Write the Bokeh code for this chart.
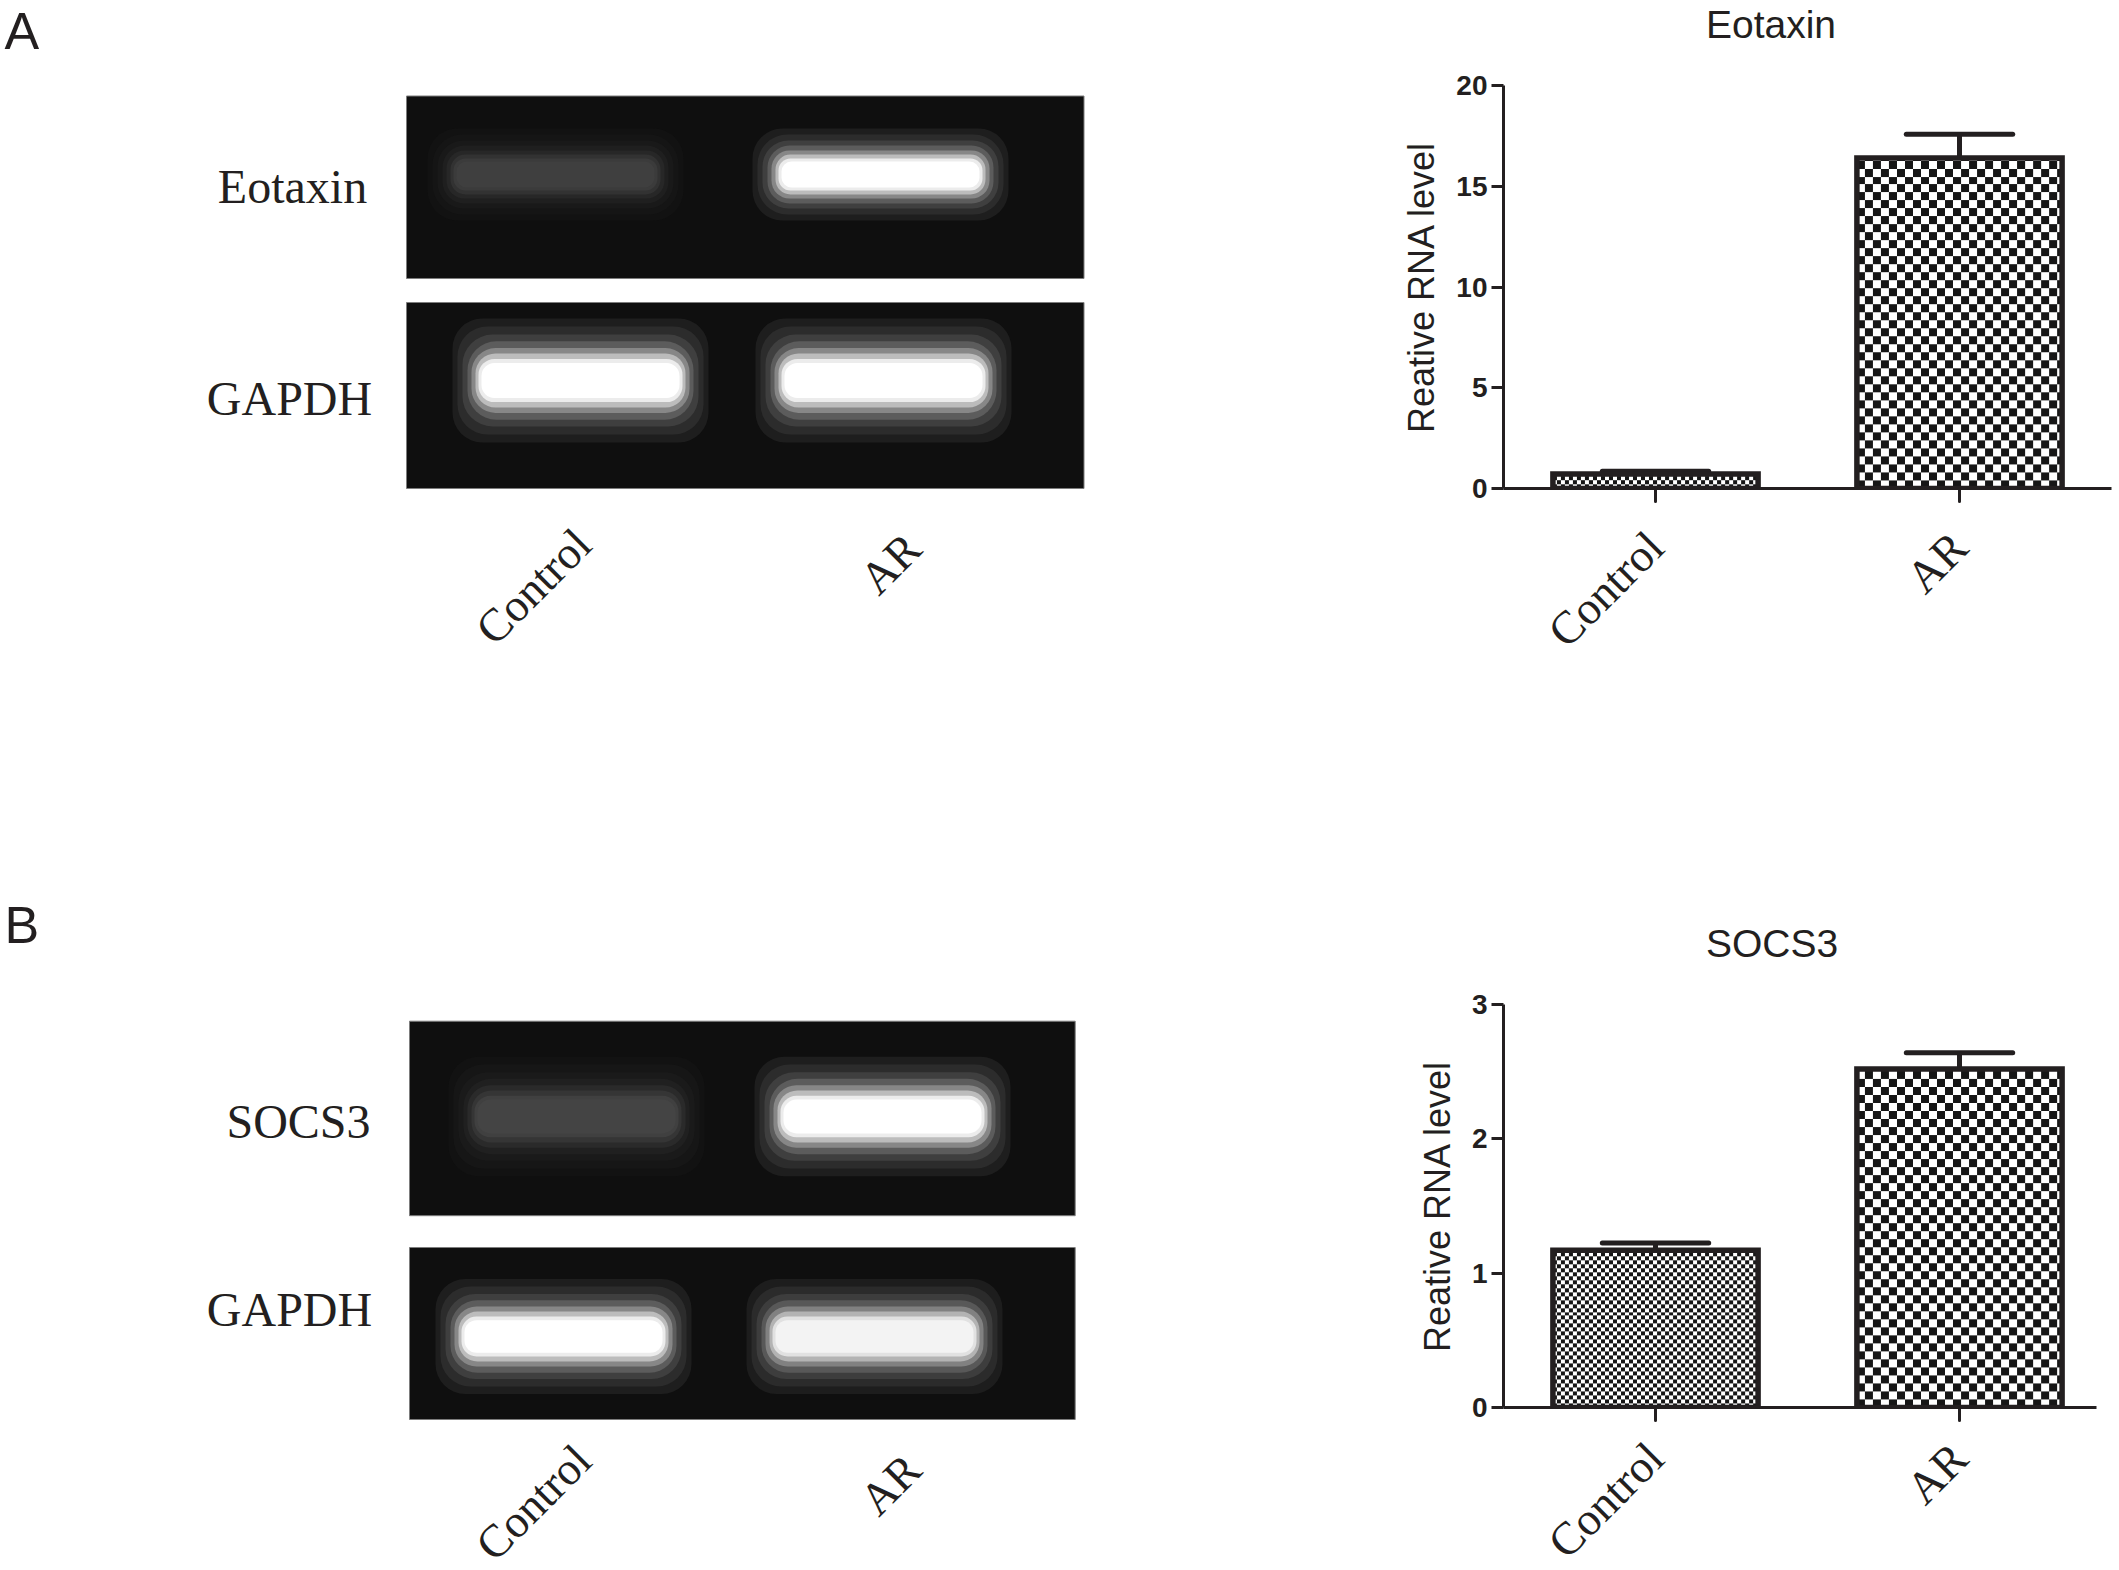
import math
import numpy as np
from bokeh.plotting import figure
from bokeh.layouts import column, row
from bokeh.models import Range1d, FixedTicker
from bokeh.core.properties import value
from bokeh.embed import file_html
from bokeh.resources import INLINE

# ---------------- data ----------------
categories = ["Control", "AR"]
eotaxin_mean = [0.72, 16.4]
eotaxin_sem = [0.13, 1.18]
socs3_mean = [1.17, 2.52]
socs3_sem = [0.055, 0.12]
eotaxin_ticks = [0, 5, 10, 15, 20]
socs3_ticks = [0, 1, 2, 3]
y_title = "Reative RNA level"
# relative band brightness of each lane in the gel photos (0..1)
eotaxin_band = [0.2, 1.0]
gapdh_a_band = [1.0, 1.0]
socs3_band = [0.22, 1.0]
gapdh_b_band = [1.0, 0.95]

# ---------------- styles ----------------
INK = "#231f20"
SANS = "Liberation Sans"
SERIF = "Liberation Serif"
CHECKER_PX = [4, 8]          # fine checker for Control, coarse for AR
LAYER_HW = [128, 123, 118, 113, 109, 105, 102, 99]
LAYER_HH = [46, 40, 34, 29, 24, 20, 16, 13]
LAYER_F = [0.06, 0.12, 0.2, 0.32, 0.5, 0.72, 0.92, 1.0]
GEL_BG = 0.06
PX_X = 304.0   # pixels per category step on the bar charts
FRAME_H = 404
PAGE_W, PAGE_H = 2119, 1570
TOP_H = 790
BOTTOM_H = 798   # a little taller than the page; the overflow is clipped


def gray(v):
    c = int(round(255 * max(0.0, min(1.0, v))))
    return "#%02x%02x%02x" % (c, c, c)


def checker(w_px, h_px, sq):
    rows = max(1, int(round(h_px)))
    cols = max(1, int(round(w_px)))
    r = np.arange(rows)[:, None] // sq
    c = np.arange(cols)[None, :] // sq
    mask = ((r + c) % 2) == 0
    img = np.empty((rows, cols), dtype=np.uint32)
    view = img.view(dtype=np.uint8).reshape((rows, cols, 4))
    view[...] = 255
    view[mask, 0] = 22
    view[mask, 1] = 22
    view[mask, 2] = 22
    return img


def gel_panel(height, y0, letter, letter_y, strips, lane_label_pos):
    p = figure(width=1380, height=height, x_range=Range1d(0, 1380),
               y_range=Range1d(y0 + height, y0), output_backend="svg",
               toolbar_location=None, x_axis_location=None, y_axis_location=None,
               min_border=0, frame_align=False)
    p.grid.visible = False
    p.outline_line_color = None
    for name, (l, r, t, b), intens, lanes, yc, vs, (lx, ly) in strips:
        p.quad(left=[l], right=[r], top=[t], bottom=[b], fill_color="#0f0f0f",
               line_color="#7d7d7d", line_width=1)
        for hw, hh, f in zip(LAYER_HW, LAYER_HH, LAYER_F):
            h = hh * vs
            p.quad(left=[x - hw for x in lanes], right=[x + hw for x in lanes],
                   top=[yc - h] * len(lanes), bottom=[yc + h] * len(lanes),
                   fill_color=[gray(GEL_BG + (1 - GEL_BG) * min(1.0, i * f)) for i in intens],
                   line_color=None, border_radius=int(round(min(h, 40) * 0.75)))
        p.text(x=[lx], y=[ly], text=[name], text_font=value(SERIF),
               text_font_size="48px", text_align="center",
               text_baseline="middle", text_color=INK)
    lx = [pos[0] for pos in lane_label_pos]
    ly = [pos[1] for pos in lane_label_pos]
    p.text(x=lx, y=ly, text=categories, angle=math.pi / 4, text_font=value(SERIF),
           text_font_size="46px", text_align="center", text_baseline="middle",
           text_color=INK)
    p.text(x=[4], y=[letter_y], text=[letter], text_font=value(SANS),
           text_font_size="52px", text_align="left", text_baseline="middle",
           text_color=INK)
    return p


def bar_panel(title, means, sems, ticks, ymax, height, b_top, b_right, label_standoff):
    width = PAGE_W - 1380
    b_left = 123
    b_bottom = height - b_top - FRAME_H
    frame_w = width - b_left - b_right
    x_end = 0.5 + frame_w / PX_X
    p = figure(width=width, height=height, x_range=Range1d(0.5, x_end),
               y_range=Range1d(0, ymax), output_backend="svg", toolbar_location=None,
               min_border_left=b_left, min_border_right=b_right,
               min_border_top=b_top, min_border_bottom=b_bottom, frame_align=False)
    p.grid.visible = False
    p.outline_line_color = None
    xs = list(range(1, len(categories) + 1))
    tops = [m + s for m, s in zip(means, sems)]
    cap = 0.35
    bw = 0.675
    p.segment(x0=xs, y0=means, x1=xs, y1=tops, line_width=5, line_color=INK)
    p.segment(x0=[x - cap / 2 for x in xs], y0=tops, x1=[x + cap / 2 for x in xs],
              y1=tops, line_width=5, line_color=INK, line_cap="round")
    for x, m, sq in zip(xs, means, CHECKER_PX):
        img = checker(bw * PX_X, m * FRAME_H / ymax, sq)
        p.image_rgba(image=[img], x=x - bw / 2, y=0, dw=bw, dh=m)
    p.vbar(x=xs, top=means, bottom=0, width=bw, fill_color=None,
           line_color=INK, line_width=5.5, line_join="miter")

    # title: second (empty) line lifts the text to the top of the border
    p.title.text = title + "\n"
    p.title.align = "left"
    p.title.text_font = SANS
    p.title.text_font_style = "normal"
    p.title.text_font_size = "39px"
    p.title.text_line_height = 0.9
    p.title.text_color = INK
    p.title.standoff = 1
    p.title.offset = 1771 - 0.5 * 39 * 3.36 - (1380 + b_left)

    ya = p.yaxis[0]
    ya.ticker = FixedTicker(ticks=ticks)
    ya.axis_line_width = 3
    ya.axis_line_color = INK
    ya.major_tick_line_width = 3
    ya.major_tick_line_color = INK
    ya.major_tick_out = 12
    ya.major_tick_in = 0
    ya.minor_tick_line_color = None
    ya.major_label_text_font = SANS
    ya.major_label_text_font_style = "bold"
    ya.major_label_text_font_size = "28px"
    ya.major_label_text_color = INK
    ya.major_label_standoff = 4
    ya.axis_label = y_title
    ya.axis_label_text_font = SANS
    ya.axis_label_text_font_style = "normal"
    ya.axis_label_text_font_size = "36px"
    ya.axis_label_text_color = INK
    ya.axis_label_standoff = 11

    xa = p.xaxis[0]
    xa.ticker = FixedTicker(ticks=xs)
    xa.major_label_overrides = {x: c for x, c in zip(xs, categories)}
    xa.major_label_orientation = math.pi / 4
    xa.major_label_text_font = SERIF
    xa.major_label_text_font_size = "46px"
    xa.major_label_text_color = INK
    xa.major_label_standoff = label_standoff
    xa.axis_line_width = 3
    xa.axis_line_color = INK
    xa.major_tick_line_width = 3
    xa.major_tick_line_color = INK
    xa.major_tick_line_cap = "round"
    xa.major_tick_out = 13
    xa.major_tick_in = 0
    xa.minor_tick_line_color = None
    return p


gel_a = gel_panel(
    TOP_H, 0, "A", 30,
    [("Eotaxin", (406, 1083.5, 95.5, 278), eotaxin_band, (555, 880), 174, 1.0, (292, 186)),
     ("GAPDH", (406, 1083.5, 302, 488), gapdh_a_band, (580, 883), 380, 1.35, (289, 398))],
    [(533, 586), (890, 563)])
gel_b = gel_panel(
    BOTTOM_H, TOP_H, "B", 924,
    [("SOCS3", (409, 1074.7, 1020.7, 1215.2), socs3_band, (576, 882), 1116, 1.3, (298, 1121)),
     ("GAPDH", (409, 1074.7, 1247, 1419), gapdh_b_band, (563, 874), 1336, 1.25, (289, 1309))],
    [(533, 1502), (890, 1484)])

bar_a = bar_panel("Eotaxin", eotaxin_mean, eotaxin_sem, eotaxin_ticks, 20, TOP_H, 84, 8, 38)
bar_b = bar_panel("SOCS3", socs3_mean, socs3_sem, socs3_ticks, 3, BOTTOM_H, 214, 23, 30)

p = column(row(gel_a, bar_a), row(gel_b, bar_b), width=PAGE_W, height=PAGE_H,
           sizing_mode="fixed", styles={"overflow": "hidden"})
open("out.html", "w").write(file_html(p, INLINE))
